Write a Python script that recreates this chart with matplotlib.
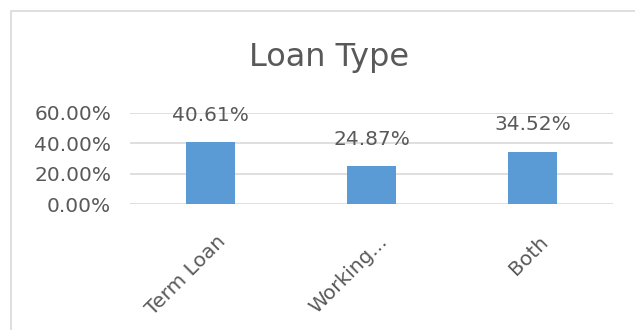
import matplotlib
matplotlib.use('Agg')
import matplotlib.pyplot as plt
import matplotlib.transforms as mtransforms
from matplotlib.patches import Rectangle
from matplotlib.ticker import FuncFormatter, MultipleLocator

# data
loan_types = ['Term Loan', 'Working...', 'Both']
shares = [40.61, 24.87, 34.52]

W, H = 635, 330
text_col = '#595959'
grid_col = '#d9d9d9'
bar_col = '#5b9bd5'

plt.rcParams['font.family'] = ['DejaVu Sans']
fig = plt.figure(figsize=(W / 100, H / 100), dpi=100)

# chart area border (cut off on the right and bottom like the screenshot)
fig.patches.append(Rectangle((11 / W, -0.1), 1.2, (H - 11) / H + 0.1,
                             transform=fig.transFigure, fill=False,
                             edgecolor=grid_col, lw=1.2))

ax = fig.add_axes([130 / W, (H - 204) / H, 483 / W, 91 / H])
ax.bar(range(len(shares)), shares, width=0.31, color=bar_col, zorder=3)
ax.set_xlim(-0.5, len(shares) - 0.5)
ax.set_ylim(0, 60)
ax.yaxis.set_major_locator(MultipleLocator(20))
ax.yaxis.set_major_formatter(FuncFormatter(lambda v, p: f'{v:.2f}%'))
ax.grid(axis='y', color=grid_col, lw=1.2, zorder=0)
for s in ax.spines.values():
    s.set_visible(False)
ax.tick_params(axis='y', length=0, pad=13.5, labelsize=14.5, labelcolor=text_col)
ax.tick_params(axis='x', length=0, pad=20, labelsize=14.5, labelcolor=text_col)

ax.set_xticks(range(len(loan_types)))
ax.set_xticklabels(loan_types, rotation=45, ha='right', va='top',
                   rotation_mode='anchor')
shift = mtransforms.ScaledTranslation(6 / 100, 0, fig.dpi_scale_trans)
for lbl in ax.get_xticklabels():
    lbl.set_transform(lbl.get_transform() + shift)

for i, v in enumerate(shares):
    ax.annotate(f'{v:.2f}%', (i, v), xytext=(0, 19.4), textcoords='offset points',
                ha='center', va='center', fontsize=14.5, color=text_col)

fig.text(329 / W, 1 - 66 / H, 'Loan Type', ha='center', va='baseline',
         fontsize=23, color=text_col)

fig.savefig('out.png', dpi=100)
